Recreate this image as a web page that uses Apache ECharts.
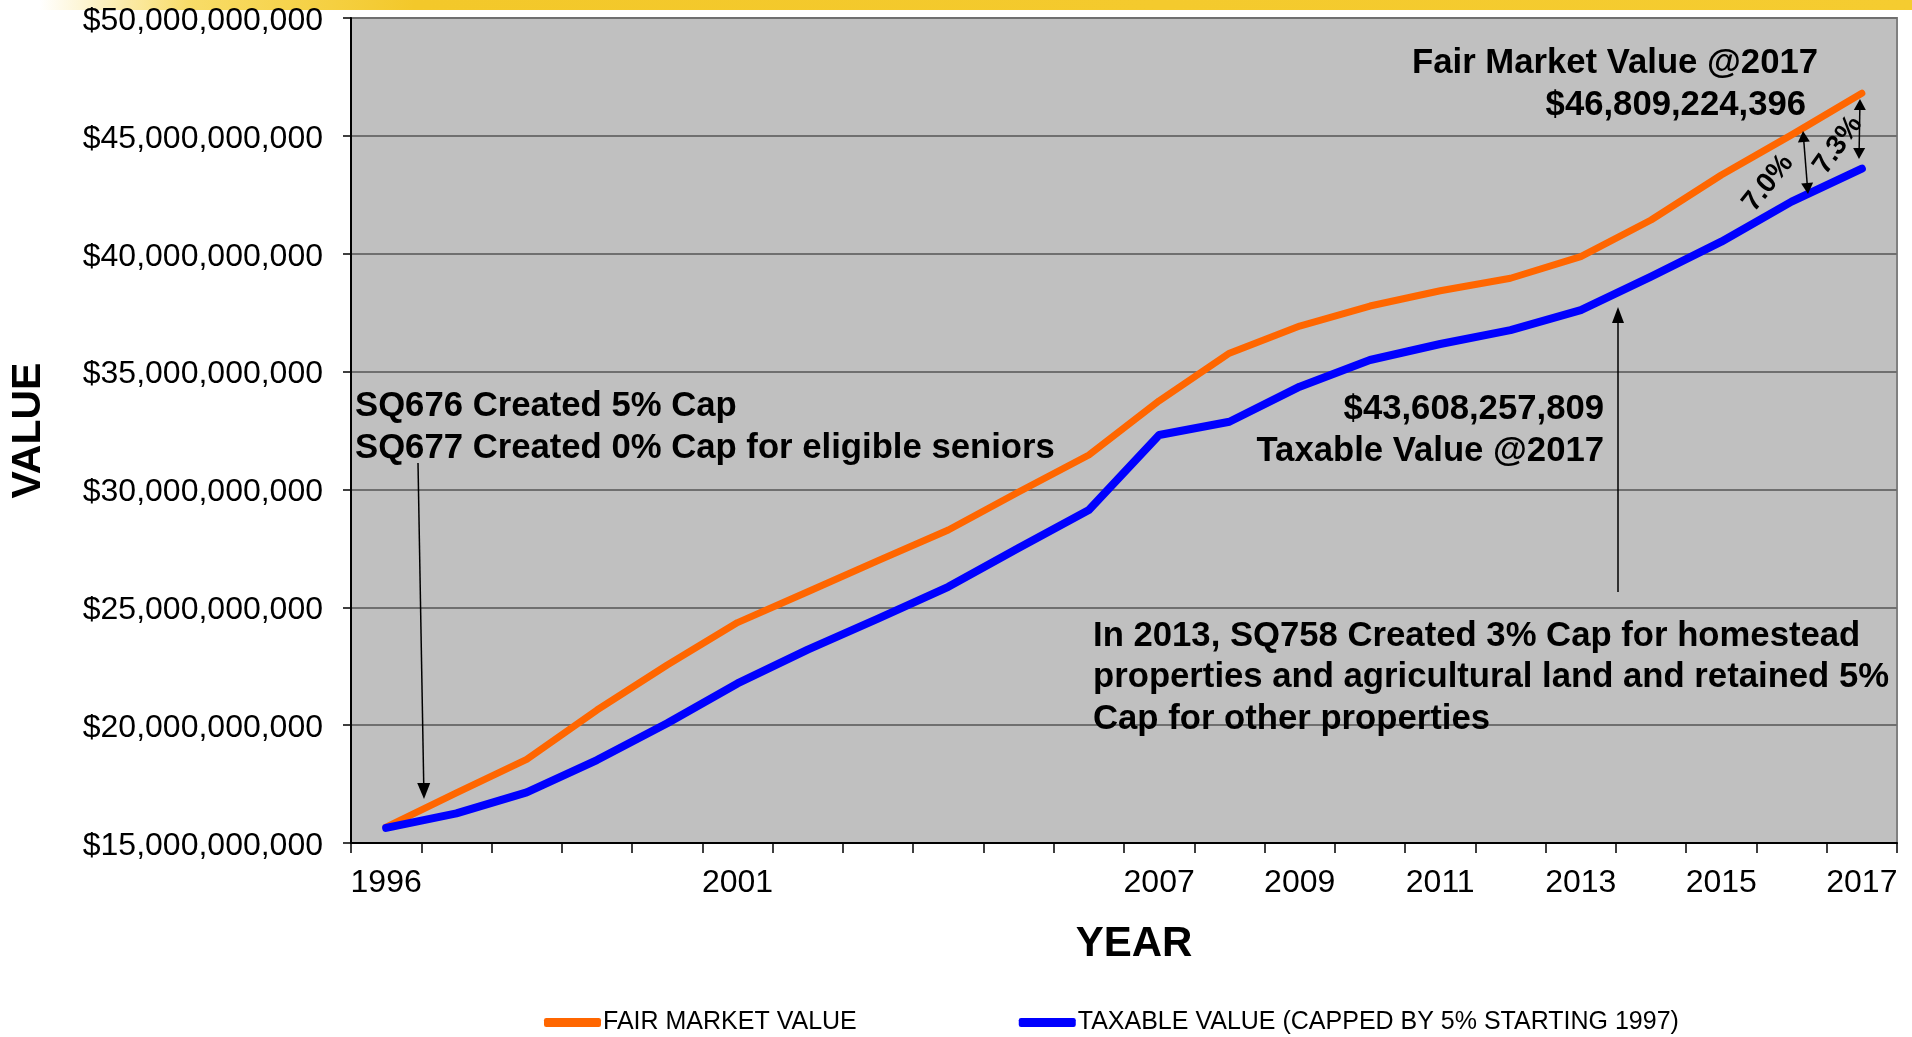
<!DOCTYPE html>
<html>
<head>
<meta charset="utf-8">
<script src="https://cdn.jsdelivr.net/npm/echarts@6/dist/echarts.min.js"></script>
<style>
html,body{margin:0;padding:0;background:#fff;}
#chart{width:1912px;height:1037px;}
</style>
</head>
<body>
<div id="chart"></div>
<script>
// ---- data ----
const years = ['1996','1997','1998','1999','2000','2001','2002','2003','2004','2005','2006','2007','2008','2009','2010','2011','2012','2013','2014','2015','2016','2017'];
const shownYearLabels = ['1996','2001','2007','2009','2011','2013','2015','2017'];
const fairMarketValue = [15.67e9,17.13e9,18.55e9,20.64e9,22.55e9,24.35e9,25.66e9,26.98e9,28.28e9,29.89e9,31.46e9,33.76e9,35.78e9,36.93e9,37.78e9,38.43e9,38.96e9,39.88e9,41.43e9,43.34e9,45.04e9,46809224396];
const taxableValue = [15.64e9,16.26e9,17.15e9,18.52e9,20.08e9,21.77e9,23.2e9,24.52e9,25.87e9,27.52e9,29.13e9,32.31e9,32.87e9,34.36e9,35.49e9,36.17e9,36.76e9,37.61e9,39.03e9,40.51e9,42.21e9,43608257809];
const yMin = 15e9, yMax = 50e9, yStep = 5e9;
const seriesNames = ['FAIR MARKET VALUE','TAXABLE VALUE (CAPPED BY 5% STARTING 1997)'];

const FONT = '"Liberation Sans", Arial, sans-serif';

function arrowHead(tx, ty, fx, fy, len, w){
  const dx = tx - fx, dy = ty - fy, d = Math.hypot(dx, dy);
  const ux = dx/d, uy = dy/d;
  const bx = tx - ux*len, by = ty - uy*len;
  const px = -uy*w/2, py = ux*w/2;
  return {type:'polygon', shape:{points:[[tx,ty],[bx+px,by+py],[bx-px,by-py]]}, style:{fill:'#000'}, z:100};
}
function arrow(x1,y1,x2,y2,opts){
  const o = Object.assign({len:15,w:12,start:false,end:true,lw:1.5}, opts||{});
  const els = [];
  let sx=x1, sy=y1, ex=x2, ey=y2;
  const d = Math.hypot(x2-x1,y2-y1), ux=(x2-x1)/d, uy=(y2-y1)/d;
  if(o.end){ ex = x2 - ux*o.len*0.9; ey = y2 - uy*o.len*0.9; els.push(arrowHead(x2,y2,x1,y1,o.len,o.w)); }
  if(o.start){ sx = x1 + ux*o.len*0.9; sy = y1 + uy*o.len*0.9; els.push(arrowHead(x1,y1,x2,y2,o.len,o.w)); }
  els.push({type:'line', shape:{x1:sx,y1:sy,x2:ex,y2:ey}, style:{stroke:'#000', lineWidth:o.lw}, z:99});
  return els;
}
function txt(text, x, y, opts){
  const o = Object.assign({size:34.7, align:'left', vAlign:'middle', weight:'bold', lh:42, rot:0}, opts||{});
  return {type:'text', x:x, y:y, rotation:o.rot, z:101,
    style:{text:text, fill:'#000', fontSize:o.size, fontWeight:o.weight, fontFamily:FONT,
      align:o.align, verticalAlign:o.vAlign, lineHeight:o.lh}};
}

const graphics = [
  {type:'rect', shape:{x:40,y:0,width:1872,height:10}, z:0,
    style:{fill:new echarts.graphic.LinearGradient(0,0,1,0,[
      {offset:0,color:'rgba(245,205,40,0)'},{offset:0.08,color:'rgba(245,205,40,0.7)'},
      {offset:0.2,color:'#F3C82A'},{offset:1,color:'#F5CC30'}])}},
  txt('SQ676 Created 5% Cap\nSQ677 Created 0% Cap for eligible seniors', 355, 385, {vAlign:'top', lh:42}),
  txt('Fair Market Value @2017', 1818, 63.5, {align:'right'}),
  txt('$46,809,224,396', 1806, 105.5, {align:'right'}),
  txt('$43,608,257,809', 1604, 409.5, {align:'right'}),
  txt('Taxable Value @2017', 1604, 451.5, {align:'right'}),
  txt('In 2013, SQ758 Created 3% Cap for homestead\nproperties and agricultural land and retained 5%\nCap for other properties', 1093, 615.5, {vAlign:'top', lh:41.5}),
  txt('7.0%', 1768, 183, {align:'center', size:28, rot:0.9}),
  txt('7.3%', 1838, 145, {align:'center', size:28, rot:0.95}),
  ...arrow(418,463,424,799,{len:16,w:13}),
  ...arrow(1618,592,1618,307,{len:16,w:12}),
  ...arrow(1803,131,1808,194,{len:11,w:12,start:true}),
  ...arrow(1860,99,1859,159,{len:11,w:12,start:true})
];

const chart = echarts.init(document.getElementById('chart'), null, {renderer:'canvas'});
chart.setOption({
  animation:false,
  backgroundColor:'#ffffff',
  textStyle:{fontFamily:FONT},
  grid:{left:349, right:15, top:18, bottom:194, show:true, backgroundColor:'#C0C0C0', borderColor:'#808080', borderWidth:2},
  legend:{
    data:seriesNames, left:539, top:1005, itemGap:162, itemWidth:57, itemHeight:9, icon:'roundRect',
    textStyle:{fontSize:25, color:'#000', fontFamily:FONT, padding:[0,0,0,-3]}
  },
  xAxis:{
    type:'category', data:years, boundaryGap:true,
    name:'YEAR', nameLocation:'middle', nameGap:80,
    nameTextStyle:{fontSize:42, fontWeight:'bold', color:'#000', fontFamily:FONT, padding:[0,0,0,20]},
    axisLine:{lineStyle:{color:'#000', width:2}},
    axisTick:{show:true, interval:0, length:10, alignWithLabel:false, lineStyle:{color:'#000', width:1.5}},
    axisLabel:{interval:(i, v) => shownYearLabels.includes(v), fontSize:32, color:'#000', margin:24, fontFamily:FONT},
    splitLine:{show:false}
  },
  yAxis:{
    type:'value', min:yMin, max:yMax, interval:yStep,
    name:'VALUE', nameLocation:'middle', nameGap:302, nameRotate:90,
    nameTextStyle:{fontSize:41, fontWeight:'bold', color:'#000', fontFamily:FONT},
    axisLine:{show:true, lineStyle:{color:'#000', width:2}},
    axisTick:{show:true, length:8, lineStyle:{color:'#000', width:1.5}},
    axisLabel:{formatter:v => '{a|$' + v.toLocaleString('en-US') + '}', fontSize:32, color:'#000', margin:28, fontFamily:FONT,
      rich:{a:{fontSize:32, color:'#000', fontFamily:FONT, padding:[6,0,0,0]}}},
    splitLine:{show:true, lineStyle:{color:'#6f6f6f', width:2}}
  },
  series:[
    {name:seriesNames[0], type:'line', data:fairMarketValue, symbol:'none', smooth:false,
      itemStyle:{color:'#FF6600'}, lineStyle:{color:'#FF6600', width:7, cap:'round', join:'round'}, z:3},
    {name:seriesNames[1], type:'line', data:taxableValue, symbol:'none', smooth:false,
      itemStyle:{color:'#0000FF'}, lineStyle:{color:'#0000FF', width:8, cap:'round', join:'round'}, z:4}
  ],
  graphic:graphics
});
</script>
</body>
</html>
